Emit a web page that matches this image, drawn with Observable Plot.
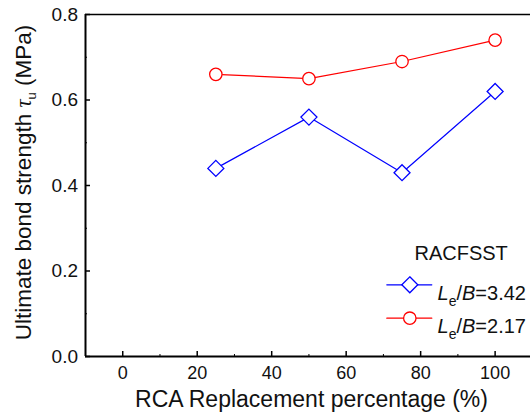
<!DOCTYPE html>
<html>
<head>
<meta charset="utf-8">
<script src="https://cdn.jsdelivr.net/npm/d3@7"></script>
<script src="https://cdn.jsdelivr.net/npm/@observablehq/plot@0.6"></script>
<style>
  body { margin: 0; background: #fff; }
</style>
</head>
<body>
<div id="chart"></div>
<script>
// RCA replacement percentage (%)
const replacement = [25, 50, 75, 100];
// Ultimate bond strength (MPa) for each slenderness group
const bondLe342 = [0.44, 0.56, 0.43, 0.62];
const bondLe217 = [0.66, 0.65, 0.69, 0.74];

const seriesNames = ["Le/B=3.42", "Le/B=2.17"];
const legendTitle = "RACFSST";

const xTicks = [0, 20, 40, 60, 80, 100];
const xMinorTicks = [10, 30, 50, 70, 90];
const yTicks = [0, 0.2, 0.4, 0.6, 0.8];
const yTickLabels = ["0.0", "0.2", "0.4", "0.6", "0.8"];
const yMinorTicks = [0.1, 0.3, 0.5, 0.7];

const xTitle = "RCA Replacement percentage (%)";
const yTitle = "Ultimate bond strength τu (MPa)";

const rowsA = replacement.map((p, i) => ({p, v: bondLe342[i]}));
const rowsB = replacement.map((p, i) => ({p, v: bondLe217[i]}));

const W = 530, H = 418;
const mL = 85, mR = 0, mT = 14, mB = 62;
const frameW = W - mL - mR, frameH = H - mT - mB;

const BLUE = "#0000ff", RED = "#ff0000";
const segment = {draw(ctx, l) { ctx.moveTo(0, 0); ctx.lineTo(0, -l); }};

const legend = (dy, color, symbol, name) => [
  Plot.vector([0], {frameAnchor: "top-left", dx: 323.8, dy, length: 45, rotate: 90, anchor: "middle",
    shape: segment, stroke: color, strokeWidth: 1.2}),
  Plot.dot([0], {frameAnchor: "top-left", dx: 324.3, dy, symbol, r: symbol === "circle" ? 6.2 : 7.2,
    stroke: color, fill: "white", strokeWidth: 1.3}),
  Plot.text([name], {frameAnchor: "top-left", dx: 352, dy: dy + 1, text: d => d, textAnchor: "start",
    fontSize: 20, fill: "#111"})
];

const chart = Plot.plot({
  width: W,
  height: H,
  marginLeft: mL,
  marginRight: mR,
  marginTop: mT,
  marginBottom: mB,
  style: {fontFamily: "'Liberation Sans', Arial, Helvetica, sans-serif", fontSize: "18px", background: "white", color: "#111"},
  x: {domain: [-10, 109.5]},
  y: {domain: [0, 0.8]},
  marks: [
    // tick labels
    Plot.axisX(xTicks, {tickSize: 0, tickPadding: 10, fontSize: 18, label: null}),
    Plot.axisY(yTicks, {tickSize: 0, tickPadding: 7.5, fontSize: 19, label: null,
      tickFormat: d => yTickLabels[yTicks.indexOf(d)]}),
    // inward tick marks
    Plot.ruleX(xTicks, {x: d => d, insetTop: frameH - 5, stroke: "black", strokeWidth: 1.5}),
    Plot.ruleX(xMinorTicks, {x: d => d, insetTop: frameH - 2, stroke: "black", strokeWidth: 1}),
    Plot.ruleY(yTicks, {y: d => d, insetRight: frameW - 5, stroke: "black", strokeWidth: 1.5}),
    Plot.ruleY(yMinorTicks, {y: d => d, insetRight: frameW - 2, stroke: "black", strokeWidth: 1}),
    // frame
    Plot.ruleY([0.8], {stroke: "black", strokeWidth: 1.5}),
    Plot.ruleX([-10], {stroke: "black", strokeWidth: 2}),
    Plot.ruleY([0], {stroke: "black", strokeWidth: 2}),
    // series
    Plot.line(rowsA, {x: "p", y: "v", stroke: BLUE, strokeWidth: 1.2}),
    Plot.line(rowsB, {x: "p", y: "v", stroke: RED, strokeWidth: 1.2}),
    Plot.dot(rowsA, {x: "p", y: "v", symbol: "diamond2", r: 7.2, stroke: BLUE, fill: "white", strokeWidth: 1.3}),
    Plot.dot(rowsB, {x: "p", y: "v", symbol: "circle", r: 6.2, stroke: RED, fill: "white", strokeWidth: 1.3}),
    // legend
    Plot.text([legendTitle], {frameAnchor: "top-left", dx: 329, dy: 231.3, text: d => d, textAnchor: "start",
      fontSize: 20, fill: "#111"}),
    ...legend(270.3, BLUE, "diamond2", seriesNames[0]),
    ...legend(303.7, RED, "circle", seriesNames[1]),
    // axis titles
    Plot.text([xTitle], {frameAnchor: "bottom", dx: 3.5, dy: 50, text: d => d, textAnchor: "middle",
      fontSize: 23, fill: "#111"}),
    Plot.text([yTitle], {frameAnchor: "left", dx: -62, dy: -3, rotate: -90, text: d => d, textAnchor: "middle",
      fontSize: 22.5, fill: "#111"})
  ]
});

document.getElementById("chart").append(chart);

// Rich text: italic symbols and subscripts
function richText(str, parts) {
  d3.select(chart).selectAll("text").filter(function () { return this.textContent === str; })
    .each(function () {
      const el = d3.select(this);
      el.text(null);
      for (const part of parts) {
        const t = el.append("tspan").text(part.t);
        if (part.italic) t.attr("font-style", "italic");
        if (part.family) t.attr("font-family", part.family);
        if (part.size) t.attr("font-size", part.size);
        if (part.dy) t.attr("dy", part.dy);
      }
    });
}

richText(yTitle, [
  {t: "Ultimate bond strength "},
  {t: "τ", italic: true, family: "'Liberation Serif', 'DejaVu Serif', serif"},
  {t: "u", size: 13, dy: "5px"},
  {t: " (MPa)", dy: "-5px"}
]);
for (const name of seriesNames) {
  const value = name.split("=")[1];
  richText(name, [
    {t: "L", italic: true},
    {t: "e", size: 14, dy: "6px"},
    {t: "/", dy: "-6px"},
    {t: "B", italic: true},
    {t: "=" + value}
  ]);
}
</script>
</body>
</html>
